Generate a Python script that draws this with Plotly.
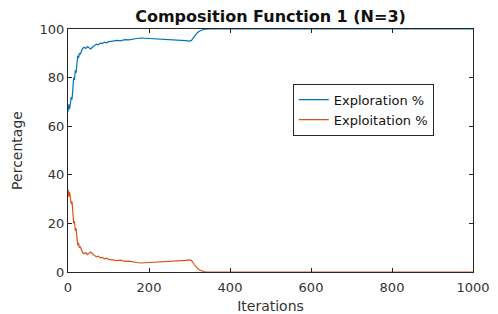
import plotly.graph_objects as go

iterations = [0,2,4,6,8,10,12,14,16,18,20,22,24,26,28,30,33,36,40,44,48,52,56,60,65,70,75,80,85,90,
              95,100,110,120,130,140,150,160,170,180,190,200,210,220,230,240,250,260,270,280,
              290,300,305,310,315,320,325,330,335,340,350,1000]
exploration = [66,69,67,70,72,71,76,80,79,83,82,87,89,88,90,89.5,90.5,92,92.5,92,
               92.8,92.3,91.8,92.5,93.2,93.8,93.5,94.2,94.0,94.6,94.3,94.8,95.0,95.3,95.1,95.6,95.5,95.9,96.1,96.3,
               96.2,96.4,96.2,96.1,95.9,95.8,95.6,95.5,95.4,95.6,95.2,95.0,95.3,96.5,97.8,98.6,99.2,99.6,99.8,99.9,
               100,100]
exploitation = [34,31,33,30,28,29,24,20,21,17,18,13,11,12,10,10.5,9.5,8,7.5,8,
                7.2,7.7,8.2,7.5,6.8,6.2,6.5,5.8,6.0,5.4,5.7,5.2,5.0,4.7,4.9,4.4,4.5,4.1,3.9,3.7,
                3.8,3.6,3.8,3.9,4.1,4.2,4.4,4.5,4.6,4.4,4.8,5.0,4.7,3.5,2.2,1.4,0.8,0.4,0.2,0.1,
                0,0]

x_ticks = [0, 200, 400, 600, 800, 1000]
y_ticks = [0, 20, 40, 60, 80, 100]

axis_col = "#262626"
font_fam = "DejaVu Sans, Verdana, sans-serif"

fig = go.Figure()
fig.add_trace(go.Scatter(x=iterations, y=exploration, mode="lines", name="Exploration %",
                         line=dict(color="#0072BD", width=1.2)))
fig.add_trace(go.Scatter(x=iterations, y=exploitation, mode="lines", name="Exploitation %",
                         line=dict(color="#D95319", width=1.2)))

axis_common = dict(showline=True, linecolor=axis_col, linewidth=1, mirror="ticks",
                   ticks="inside", ticklen=4, tickcolor=axis_col, showgrid=False, zeroline=False,
                   tickfont=dict(size=13, color="#333333", family=font_fam), automargin=False)

fig.update_layout(
    width=490, height=306,
    margin=dict(l=60, r=25, t=21, b=42),
    paper_bgcolor="white", plot_bgcolor="white",
    font=dict(family=font_fam, color=axis_col),
    title=dict(text="<b>Composition Function 1 (N=3)</b>", xref="paper", x=0.5, xanchor="center",
               y=0.972, yanchor="middle", font=dict(size=16, color="#111111", family=font_fam)),
    xaxis=dict(range=[0, 1000], tickvals=x_ticks, ticklabelstandoff=3,
               title=dict(text="Iterations", font=dict(size=14, color="#333333"), standoff=7),
               **axis_common),
    yaxis=dict(range=[0, 100], tickvals=y_ticks,
               title=dict(text="Percentage", font=dict(size=14, color="#333333"), standoff=13),
               **axis_common),
    legend=dict(x=0.555, y=0.775, xanchor="left", yanchor="top",
                bordercolor=axis_col, borderwidth=1, bgcolor="white",
                font=dict(size=13, color="#111111"), tracegroupgap=0,
                itemwidth=30),
    showlegend=True,
)

fig.write_html("out.html")
